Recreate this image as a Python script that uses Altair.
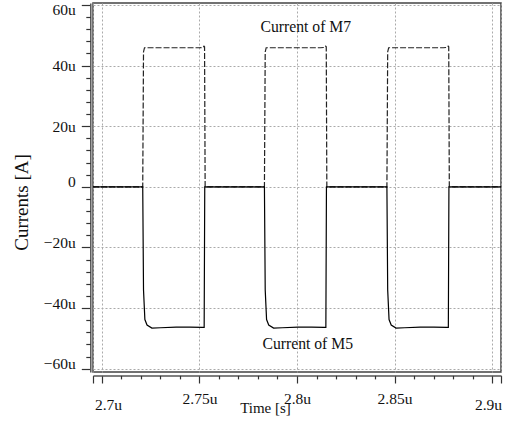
import altair as alt
import pandas as pd

# ---- data (time in microseconds, current in microamps) ----
time_m7 = [2.6954, 2.7209, 2.7213, 2.7218, 2.7300, 2.7400, 2.7500, 2.7518, 2.7523, 2.7526, 2.7529,
           2.7833, 2.7837, 2.7842, 2.7950, 2.8050, 2.8120, 2.8142, 2.8147, 2.8150, 2.8153,
           2.8461, 2.8465, 2.8470, 2.8580, 2.8680, 2.8750, 2.8770, 2.8775, 2.8778, 2.8781, 2.9046]
cur_m7 = [0.0, 0.0, 44.5, 45.9, 45.9, 45.9, 45.9, 46.0, 46.4, 46.2, 0.0,
          0.0, 44.5, 45.9, 45.9, 45.9, 45.9, 46.0, 46.4, 46.2, 0.0,
          0.0, 44.5, 45.9, 45.9, 45.9, 45.9, 46.0, 46.4, 46.2, 0.0, 0.0]

time_m5 = [2.6954, 2.7209, 2.7213, 2.7220, 2.7231, 2.7256, 2.7300, 2.7380, 2.7450, 2.7515, 2.7524, 2.7527,
           2.7833, 2.7837, 2.7844, 2.7855, 2.7880, 2.7925, 2.8005, 2.8075, 2.8140, 2.8148, 2.8151,
           2.8461, 2.8465, 2.8472, 2.8483, 2.8508, 2.8552, 2.8632, 2.8702, 2.8767, 2.8776, 2.8779, 2.9046]
cur_m5 = [0.0, 0.0, -34.0, -43.8, -45.6, -46.6, -46.5, -46.3, -46.3, -46.4, -46.4, 0.0,
          0.0, -34.0, -43.8, -45.6, -46.6, -46.5, -46.3, -46.3, -46.4, -46.4, 0.0,
          0.0, -34.0, -43.8, -45.6, -46.6, -46.5, -46.3, -46.3, -46.4, -46.4, 0.0, 0.0]

x_major = [2.6954, 2.7, 2.75, 2.8, 2.85, 2.9, 2.9046]
x_minor = [2.71, 2.72, 2.73, 2.74, 2.76, 2.77, 2.78, 2.79, 2.81, 2.82, 2.83, 2.84,
           2.86, 2.87, 2.88, 2.89]
y_major = [-60, -40, -20, 0, 20, 40, 60]
y_minor = [-56, -52, -48, -44, -36, -32, -28, -24, -16, -12, -8, -4,
           4, 8, 12, 16, 24, 28, 32, 36, 44, 48, 52, 56]

labels = ["Current of M7", "Current of M5"]
label_t = [2.8045, 2.8055]
label_i = [52.8, -51.8]

FONT = "Liberation Serif"

df7 = pd.DataFrame({"t": time_m7, "i": cur_m7})
df5 = pd.DataFrame({"t": time_m5, "i": cur_m5})
dft = pd.DataFrame({"t": label_t, "i": label_i, "label": labels})

xs = alt.Scale(domain=[2.6954, 2.9046], nice=False, zero=False)
ys = alt.Scale(domain=[-61.1, 60.66], nice=False, zero=False)

x_axis = alt.Axis(
    values=x_major, orient="bottom", offset=3.4, tickSize=7.6, tickColor="#333", tickWidth=1.2,
    domainColor="#555", domainWidth=1.5,
    grid=True, gridDash=[2, 2], gridColor="#aaa", gridWidth=1,
    labelExpr="(datum.value < 2.699 || datum.value > 2.901) ? '' : format(datum.value, '.3~f') + 'u'",
    labelFont=FONT, labelFontSize=15.5, labelColor="#111", labelFlush=False,
    labelBaseline="middle",
    labelPadding={"condition": {"test": "datum.value < 2.71 || datum.value > 2.89", "value": 21.5}, "value": 15.5},
    labelOffset={"condition": [{"test": "datum.value < 2.71", "value": 6},
                               {"test": "datum.value > 2.89", "value": -4}], "value": 0},
    title="Time [s]", titleFont=FONT, titleFontSize=15, titleFontWeight="normal", titleColor="#111",
    titleX=172, titleY=32.5, titleBaseline="middle", titleAlign="center",
)
y_axis = alt.Axis(
    values=y_major, orient="left", offset=2.7, tickSize=9, tickColor="#333", tickWidth=1.2,
    domainColor="#555", domainWidth=1.5,
    grid=True, gridDash=[2, 2], gridColor="#aaa", gridWidth=1,
    labelExpr="datum.value == 0 ? '0' : format(datum.value, 'd') + 'u'",
    labelFont=FONT, labelFontSize=15.5, labelColor="#111", labelFlush=False, labelPadding=6,
    labelBaseline={"condition": {"test": "datum.value > 0", "value": "middle"}, "value": "alphabetic"},
    labelOffset={"condition": {"test": "datum.value > 59", "value": 4}, "value": 0},
    title="Currents [A]", titleFont=FONT, titleFontSize=19, titleFontWeight="normal", titleColor="#111",
    titleAngle=270, titleX=-69, titleY=199, titleBaseline="middle", titleAlign="center",
)
x_minor_axis = alt.Axis(values=x_minor, orient="bottom", offset=3.4, tickSize=3.5, tickColor="#333",
                        tickWidth=1.2, labels=False, domain=False, grid=False, title=None)
y_minor_axis = alt.Axis(values=y_minor, orient="left", offset=2.7, tickSize=4.5, tickColor="#333",
                        tickWidth=1.2, labels=False, domain=False, grid=False, title=None)

m7 = alt.Chart(df7).mark_line(color="#222", strokeWidth=1.2, strokeDash=[6, 2]).encode(
    x=alt.X("t:Q", scale=xs, axis=x_axis),
    y=alt.Y("i:Q", scale=ys, axis=y_axis),
    order="t:Q",
)
m5 = alt.Chart(df5).mark_line(color="#000", strokeWidth=1.2).encode(
    x=alt.X("t:Q", scale=xs, axis=None),
    y=alt.Y("i:Q", scale=ys, axis=None),
    order="t:Q",
)
minor = alt.Chart(df5).mark_point(opacity=0).encode(
    x=alt.X("t:Q", scale=xs, axis=x_minor_axis),
    y=alt.Y("i:Q", scale=ys, axis=y_minor_axis),
)
txt = alt.Chart(dft).mark_text(font=FONT, fontSize=15.7, color="#111").encode(
    x=alt.X("t:Q", scale=xs, axis=None),
    y=alt.Y("i:Q", scale=ys, axis=None),
    text="label:N",
)

chart = alt.layer(m7, m5, minor, txt).resolve_axis(x="independent", y="independent").properties(
    width=408, height=369,
    autosize=alt.AutoSizeParams(type="none"),
    padding={"left": 93, "top": 3, "right": 9, "bottom": 52},
    background="white",
).configure_view(stroke="#444", strokeWidth=1.5).configure_axis(
    labelFont=FONT, titleFont=FONT
)

chart.save("out.html", embed_options={"renderer": "svg", "actions": False})
